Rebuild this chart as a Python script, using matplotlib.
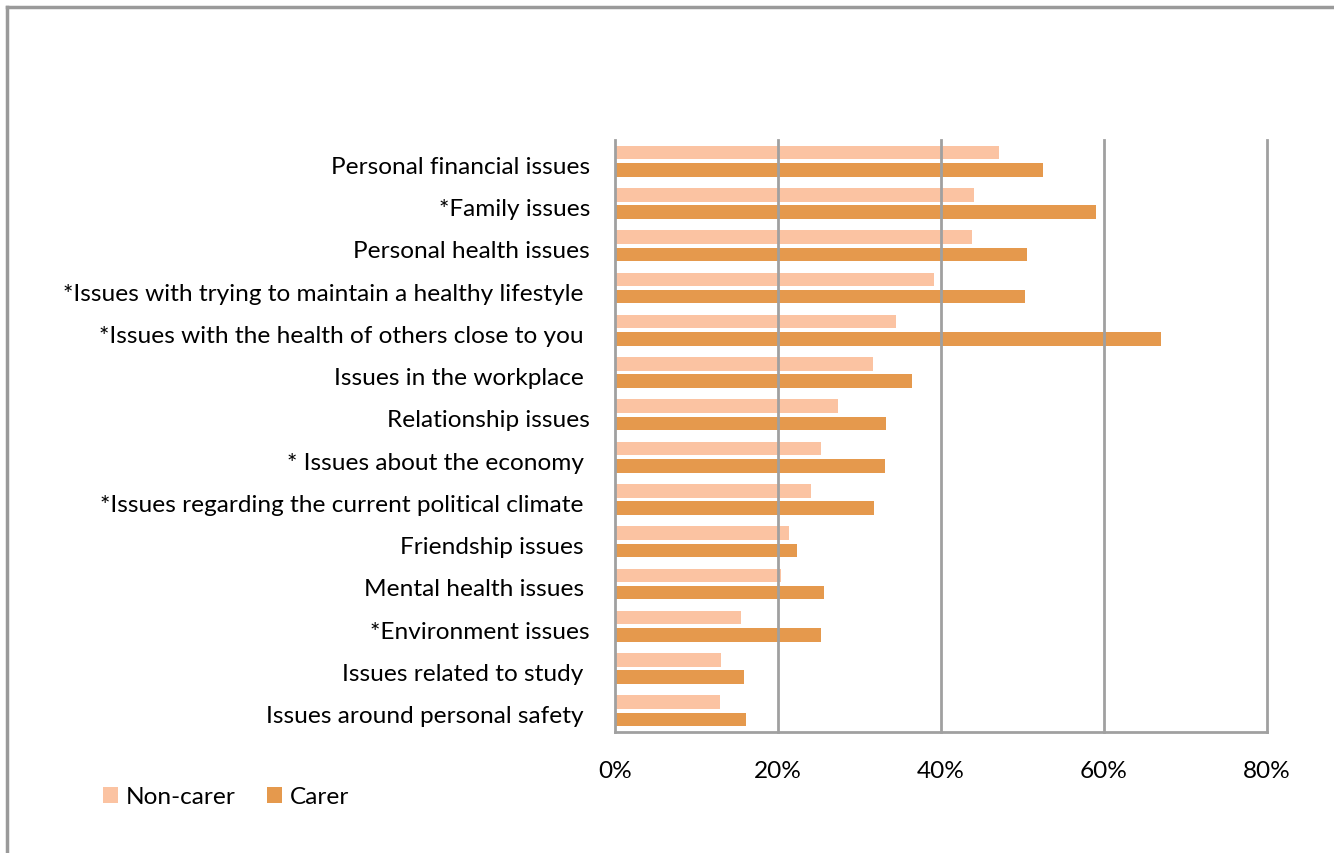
import matplotlib.pyplot as plt
import numpy as np
from matplotlib.patches import Patch
from matplotlib.lines import Line2D
from matplotlib.ticker import FuncFormatter
from matplotlib.transforms import ScaledTranslation

categories = [
    "Personal financial issues",
    "*Family issues",
    "Personal health issues",
    "*Issues with trying to maintain a healthy lifestyle ",
    "*Issues with the health of others close to you ",
    "Issues in the workplace ",
    "Relationship issues",
    "* Issues about the economy ",
    "*Issues regarding the current political climate ",
    "Friendship issues ",
    "Mental health issues ",
    "*Environment issues",
    "Issues related to study ",
    "Issues around personal safety ",
]
non_carer = [47.1, 44.0, 43.8, 39.1, 34.5, 31.7, 27.4, 25.3, 24.0, 21.3, 20.4, 15.5, 13.0, 12.9]
carer = [52.5, 59.0, 50.6, 50.3, 67.0, 36.4, 33.3, 33.1, 31.8, 22.3, 25.6, 25.3, 15.8, 16.1]
x_ticks = [0, 20, 40, 60, 80]

light = "#FBC3A2"
dark = "#E5994D"
grid = "#A0A0A0"
fs = 17.6

plt.rcParams['font.family'] = ['Lato', 'DejaVu Sans']

fig = plt.figure(figsize=(13.34, 8.54), dpi=100)
ax = fig.add_axes([615 / 1334, 1 - 733 / 854, 652 / 1334, 592 / 854])

y = np.arange(len(categories))
h = 0.32
ax.barh(y - 0.205, non_carer, height=h, color=light, zorder=1)
ax.barh(y + 0.205, carer, height=h, color=dark, zorder=1)

ax.set_xlim(0, 80)
ax.set_ylim(len(categories) - 0.5, -0.5)
ax.set_xticks(x_ticks)
ax.xaxis.set_major_formatter(FuncFormatter(lambda v, p: f"{v:.0f}%"))
ax.set_yticks(y)
ax.set_yticklabels(categories)
ax.tick_params(axis='both', length=0, labelsize=fs, colors="black")
ax.tick_params(axis='x', pad=20)
ax.tick_params(axis='y', pad=18)

# nudge category labels down a little
shift = ScaledTranslation(0, -3 / 100, fig.dpi_scale_trans)
for lbl in ax.get_yticklabels():
    lbl.set_transform(lbl.get_transform() + shift)

# vertical gridlines sit on top of the bars
for t in x_ticks[1:]:
    ax.axvline(t, color=grid, lw=2, zorder=3, clip_on=False)
for s in ["top", "right"]:
    ax.spines[s].set_visible(False)
for s in ["left", "bottom"]:
    ax.spines[s].set_color(grid)
    ax.spines[s].set_linewidth(2)
    ax.spines[s].set_zorder(3)

handles = [Patch(facecolor=light, label="Non-carer"), Patch(facecolor=dark, label="Carer")]
fig.legend(handles=handles, loc="center left", bbox_to_anchor=(103 / 1334, 1 - 798 / 854),
           ncol=2, frameon=False, fontsize=fs, handlelength=0.62, handleheight=0.62,
           handletextpad=0.3, columnspacing=1.3, borderpad=0, borderaxespad=0)

# outer chart border (left and top edges)
fig.add_artist(Line2D([7 / 1334, 7 / 1334], [0, 1 - 8 / 854], color="#9A9A9A", lw=2.5,
                      transform=fig.transFigure))
fig.add_artist(Line2D([7 / 1334, 1], [1 - 8 / 854, 1 - 8 / 854], color="#9A9A9A", lw=2.5,
                      transform=fig.transFigure))

fig.savefig("out.png", dpi=100)
